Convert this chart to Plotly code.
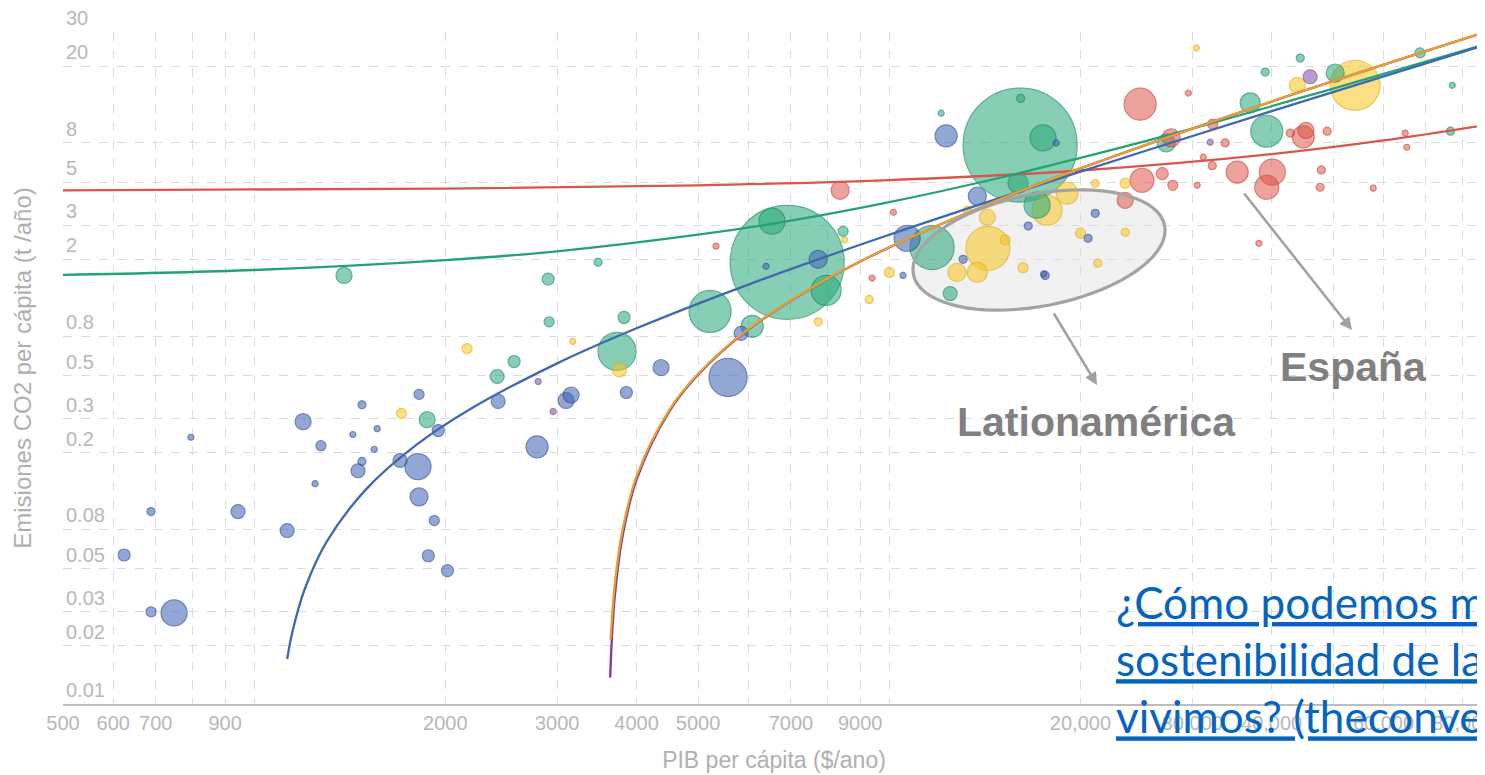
import numpy as np
import plotly.graph_objects as go

# ---------------- data ----------------
africa_gdp = [624, 688, 748, 688, 795, 943, 1127, 1194, 1247, 1274, 1430, 1457, 1478, 1478, 1545, 1562,
              1697, 1811, 1818, 1818, 1921, 1949, 1880, 2015, 2422, 2789, 3098, 3155, 3855, 4372, 5573,
              5843, 7728, 6396, 10670, 12290, 13760, 17500, 18310, 10510, 13070, 16550, 17600, 21100, 20560]
africa_co2 = [0.059, 0.030, 0.0296, 0.099, 0.24, 0.099, 0.079, 0.289, 0.138, 0.217, 0.248, 0.161, 0.180,
              0.353, 0.208, 0.266, 0.182, 0.169, 0.118, 0.40, 0.089, 0.26, 0.0585, 0.049, 0.368, 0.214,
              0.372, 0.397, 0.409, 0.551, 0.49, 0.827, 2.0, 1.84, 2.57, 8.7, 4.24, 1.68, 8.0, 1.65, 2.0,
              2.97, 1.65, 3.46, 2.57]
africa_pop = [15.5, 10.8, 73, 6.9, 3.9, 21, 21, 27.6, 3.9, 10.8, 3.9, 21, 6.9, 6.9, 3.9, 3.9, 21, 73, 35,
              10.8, 10.8, 15.5, 15.5, 15.5, 21, 52, 27.6, 27.6, 15.5, 27.6, 156, 21, 35, 3.9, 73, 52, 35,
              3.9, 3.9, 3.9, 6.9, 6.9, 6.9, 6.9, 6.9]

asia_gdp = [1385, 1872, 2413, 2566, 2903, 2913, 3479, 3823, 3727, 5222, 6085, 6536, 6906, 7955, 8459,
            11680, 12470, 16070, 17460, 15950, 17090, 16100, 12070, 27290, 37010, 39300, 50360, 39080,
            44370, 68500, 77000, 76500]
asia_co2 = [1.65, 0.296, 0.495, 0.592, 1.58, 0.95, 1.93, 1.0, 0.667, 1.075, 0.9, 3.15, 1.93, 1.38, 2.79,
            2.3, 1.33, 7.8, 8.5, 4.95, 3.81, 13.6, 11.4, 8.0, 12.9, 9.2, 18.4, 18.6, 22.0, 23.4, 15.9, 9.2]
asia_pop = [27.6, 27.6, 21, 15.5, 15.5, 10.8, 6.9, 15.5, 156, 190, 52, 73, 1400, 97, 10.8, 209, 21, 1400,
            73, 43, 73, 6.9, 3.9, 35, 43, 110, 35, 6.9, 6.9, 10.8, 3.9, 6.9]

americas_gdp = [1705, 2164, 3175, 3760, 7728, 8500, 9295, 10000, 12780, 13760, 14300, 15220, 14270, 13270,
                16240, 20000, 23520, 21300, 19060, 17720, 21100, 23520, 30440, 43900, 54130]
americas_co2 = [0.319, 0.69, 0.752, 0.536, 0.95, 2.52, 1.24, 1.71, 1.71, 1.71, 2.28, 2.52, 3.3, 3.59, 1.81,
                2.73, 2.76, 1.91, 4.4, 3.59, 4.95, 4.95, 24.8, 15.9, 15.9]
americas_pop = [10.8, 10.8, 3.9, 21, 6.9, 3.9, 6.9, 10.8, 35, 43, 209, 10.8, 27.6, 6.9, 10.8, 10.8, 6.9,
                6.9, 52, 97, 6.9, 10.8, 3.9, 27.6, 270]

europe_gdp = [5336, 8368, 9396, 10150, 24830, 29570, 27790, 32300, 33800, 31220, 25000, 23520, 26900, 27960,
              30530, 35300, 39300, 40100, 42800, 44860, 45300, 48920, 47900, 47690, 57800, 64900, 65300,
              38200, 32250]
europe_co2 = [2.34, 4.55, 1.6, 3.5, 12.7, 14.5, 8.5, 10.0, 8.0, 6.75, 5.13, 4.04, 5.55, 4.83, 4.83, 5.65,
              4.72, 5.65, 9.0, 8.6, 9.3, 9.2, 5.8, 4.72, 4.67, 9.0, 7.6, 2.42, 6.1]
europe_pop = [3.9, 35, 3.9, 3.9, 110, 3.9, 35, 10.8, 6.9, 3.9, 62, 27.6, 15.5, 10.8, 3.9, 52, 62, 73, 6.9,
              52, 27.6, 6.9, 6.9, 6.9, 3.9, 3.9, 3.9, 3.9, 6.9]

mideast_gdp = [2800, 2956, 45990, 32010]
mideast_co2 = [0.466, 0.326, 17.6, 8.07]
mideast_pop = [3.9, 3.9, 21, 3.9]

# trend lines
trend_blue_x = [1127, 1150, 1200, 1300, 1500, 1800, 2200, 3000, 4000, 6000, 10000, 20000, 40000, 90000]
trend_blue_y = [0.0171, 0.024, 0.039, 0.069, 0.129, 0.219, 0.339, 0.579, 0.879, 1.48, 2.68, 5.68, 11.7, 26.7]
trend_green_x = [500, 1000, 2000, 3000, 5000, 7000, 10000, 15000, 20000, 30000, 50000, 90000]
trend_green_y = [1.66, 1.76, 1.98, 2.2, 2.68, 3.17, 3.95, 5.3, 6.7, 9.5, 15.3, 26.8]
trend_red_x = [500, 2000, 5000, 10000, 20000, 40000, 60000, 90000]
trend_red_y = [4.55, 4.64, 4.83, 5.14, 5.76, 7.0, 8.24, 10.1]
trend_purple_x = [3635, 3660, 3700, 3800, 4000, 4500, 5000, 6000, 8000, 10000, 15000, 20000, 40000, 90000]
trend_purple_y = [0.0137, 0.0227, 0.0371, 0.0731, 0.145, 0.325, 0.505, 0.865, 1.585, 2.305, 4.105, 5.905, 13.1, 31.1]
trend_orange_x = [3640, 3700, 3800, 4000, 4500, 5000, 6000, 8000, 10000, 15000, 20000, 40000, 90000]
trend_orange_y = [0.0216, 0.043, 0.079, 0.151, 0.331, 0.511, 0.871, 1.59, 2.31, 4.11, 5.91, 13.1, 31.1]

x_tickvals = [500, 600, 700, 800, 900, 1000, 2000, 3000, 4000, 5000, 6000, 7000, 8000, 9000, 10000,
              20000, 30000, 40000, 50000, 60000, 70000, 80000]
x_ticktext = ["500", "600", "700", "", "900", "", "2000", "3000", "4000", "5000", "", "7000", "", "9000", "",
              "20,000", "30,000", "40,000", "", "60,000", "", "80,000"]
y_tickvals = [0.01, 0.02, 0.03, 0.05, 0.08, 0.2, 0.3, 0.5, 0.8, 2, 3, 5, 8, 20, 30]
y_ticktext = ["0.01", "0.02", "0.03", "0.05", "0.08", "0.2", "0.3", "0.5", "0.8", "2", "3", "5", "8", "20", "30"]

# ---------------- styles ----------------
OFF = 8                      # page body margin of the html page
W, H = 1485 - OFF, 775 - OFF
ML, MT = 63 - OFF, 32 - OFF
PLOT_BOTTOM = 704 - OFF
MB, MR = H - PLOT_BOTTOM, 0
PW, PH = W - ML - MR, H - MT - MB

groups = [
    (africa_gdp, africa_co2, africa_pop, "rgba(66,103,180,0.82)", "rgb(48,78,150)"),
    (asia_gdp, asia_co2, asia_pop, "rgba(40,170,122,0.80)", "rgb(30,140,100)"),
    (americas_gdp, americas_co2, americas_pop, "rgba(246,200,40,0.82)", "rgb(228,176,20)"),
    (europe_gdp, europe_co2, europe_pop, "rgba(222,82,66,0.75)", "rgb(200,70,58)"),
    (mideast_gdp, mideast_co2, mideast_pop, "rgba(140,92,175,0.85)", "rgb(115,70,150)"),
]

pts = []
for gx, gy, gp, fc, lc in groups:
    for a, b, c in zip(gx, gy, gp):
        pts.append((a, b, c, fc, lc))
pts.sort(key=lambda p: -p[2])

fig = go.Figure()
fig.add_trace(go.Scatter(
    x=[p[0] for p in pts], y=[p[1] for p in pts], mode="markers",
    marker=dict(size=[p[2] for p in pts], sizemode="area", sizeref=2 * 1400 / 114 ** 2, sizemin=2,
                color=[p[3] for p in pts], line=dict(color=[p[4] for p in pts], width=1.2)),
    hoverinfo="x+y", showlegend=False))

for tx, ty, col in [(trend_red_x, trend_red_y, "#d6574b"),
                    (trend_green_x, trend_green_y, "#22a276"),
                    (trend_blue_x, trend_blue_y, "#3f68b0"),
                    (trend_purple_x, trend_purple_y, "#7d3c98"),
                    (trend_orange_x, trend_orange_y, "#e8a030")]:
    fig.add_trace(go.Scatter(x=tx, y=ty, mode="lines", line=dict(color=col, width=2.3, shape="spline"),
                             hoverinfo="skip", showlegend=False))


def P(xpix, ypix):
    """screen pixel of the reference -> paper coordinates"""
    return (xpix - OFF - ML) / PW, (PLOT_BOTTOM - (ypix - OFF)) / PH


# ellipse highlighting Latin America: light fill under the bubbles, outline above
cx, cy, ra, rb, th = 1039, 250, 128, 56, np.deg2rad(-11)
t = np.linspace(0, 2 * np.pi, 73)
ex = cx + ra * np.cos(t) * np.cos(th) - rb * np.sin(t) * np.sin(th)
ey = cy + ra * np.cos(t) * np.sin(th) + rb * np.sin(t) * np.cos(th)
pp = [P(a, b) for a, b in zip(ex, ey)]
path = "M " + " L ".join(f"{a:.5f},{b:.5f}" for a, b in pp) + " Z"
fig.add_shape(type="path", path=path, xref="paper", yref="paper",
              line=dict(width=0), fillcolor="rgba(238,238,238,0.85)", layer="below")
fig.add_shape(type="path", path=path, xref="paper", yref="paper",
              line=dict(color="#a3a3a3", width=3.2), fillcolor="rgba(0,0,0,0)", layer="above")

grey = "#a0a0a0"
hx, hy = P(1097, 385)
fig.add_annotation(x=hx, y=hy, xref="paper", yref="paper", text="", showarrow=True, ax=-44, ay=-73,
                   arrowhead=2, arrowsize=1, arrowwidth=2.5, arrowcolor=grey)
hx, hy = P(1352, 330)
fig.add_annotation(x=hx, y=hy, xref="paper", yref="paper", text="", showarrow=True, ax=-109, ay=-138,
                   arrowhead=2, arrowsize=1, arrowwidth=2.5, arrowcolor=grey)

lab_font = dict(family="Liberation Sans, Arial", size=41, color="#808080")
tx_, ty_ = P(1096, 422)
fig.add_annotation(x=tx_, y=ty_, xref="paper", yref="paper", text="<b>Lationamérica</b>", showarrow=False,
                   font=lab_font, xanchor="center", yanchor="middle")
tx_, ty_ = P(1353, 367)
fig.add_annotation(x=tx_, y=ty_, xref="paper", yref="paper", text="<b>España</b>", showarrow=False,
                   font=lab_font, xanchor="center", yanchor="middle")

u = '<span style="text-decoration:underline">{}</span>'
link = "<br>".join(u.format(s) for s in ["¿Cómo podemos medir la",
                                         "sostenibilidad de la sociedad en que",
                                         "vivimos? (theconversation.com)"])
lx, ly = P(1114, 574)
fig.add_annotation(x=lx, y=ly, xref="paper", yref="paper", text=link, showarrow=False, align="left",
                   xanchor="left", yanchor="top", font=dict(family="Lato", size=44, color="#0563C1"))

tick_font = dict(family="Liberation Sans, Arial", size=20, color="#b8b8b8")
fig.update_xaxes(type="log", range=[np.log10(500), np.log10(86700)], tickvals=x_tickvals, ticktext=x_ticktext,
                 showgrid=True, gridcolor="#dcdcdc", griddash="dash", gridwidth=1, zeroline=False,
                 showline=True, linecolor="#bdbdbd", linewidth=2, ticks="", tickfont=tick_font,
                 automargin=False, ticklabeloverflow="allow",
                 title=dict(text="PIB per cápita ($/ano)", standoff=19,
                            font=dict(family="Liberation Sans, Arial", size=23, color="#b0b0b0")))
fig.update_yaxes(type="log", range=[-2, np.log10(30)], tickvals=y_tickvals, ticktext=y_ticktext,
                 ticklabelposition="inside top", showgrid=True, gridcolor="#dcdcdc", griddash="dash",
                 gridwidth=1, zeroline=False, showline=False, ticks="", tickfont=tick_font,
                 automargin=False, ticklabeloverflow="allow",
                 title=dict(text="Emisiones CO2 per cápita (t /año)", standoff=27,
                            font=dict(family="Liberation Sans, Arial", size=24, color="#b0b0b0")))

fig.update_layout(width=W, height=H, margin=dict(l=ML, r=MR, t=MT, b=MB), paper_bgcolor="white",
                  plot_bgcolor="rgba(0,0,0,0)", showlegend=False)

fig.write_html("out.html")
